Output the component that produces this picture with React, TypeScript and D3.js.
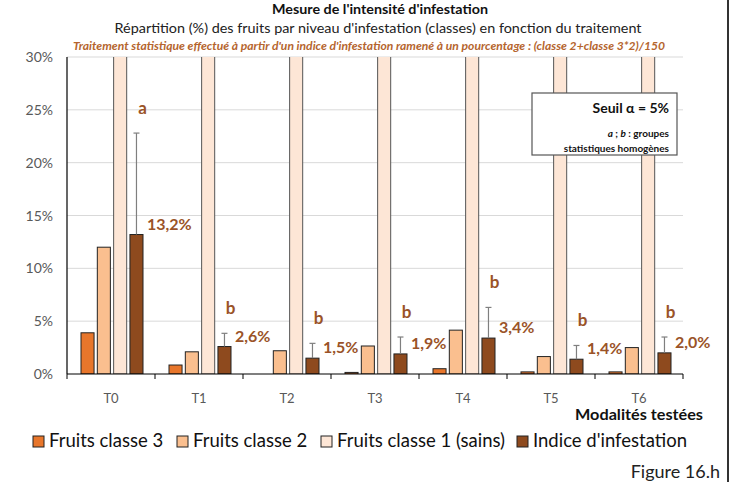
import React from "react";
import * as d3 from "d3";

// values (%)
const treatments = ["T0", "T1", "T2", "T3", "T4", "T5", "T6"];
const classe3 = [3.9, 0.85, 0, 0.15, 0.5, 0.2, 0.2];
const classe2 = [12.0, 2.1, 2.2, 2.65, 4.15, 1.65, 2.5];
const classe1 = [84.1, 97.0, 97.8, 97.2, 95.4, 98.1, 97.3];
const indice = [13.2, 2.6, 1.5, 1.9, 3.4, 1.4, 2.0];
const errTop = [22.8, 3.85, 2.9, 3.5, 6.3, 2.7, 3.5];
const groups = ["a", "b", "b", "b", "b", "b", "b"];
const yTicks = [0, 5, 10, 15, 20, 25, 30];

const seriesNames = ["Fruits classe 3", "Fruits classe 2", "Fruits classe 1 (sains)", "Indice d'infestation"];
const colors = ["#E8762B", "#FABF8F", "#FDE6D6", "#8E4A1E"];
const labelColor = "#9A5328";
const font = "Lato, 'Open Sans', sans-serif";

export default function App() {
  const W = 736, H = 482;
  const left = 67, right = 683, top = 57, bottom = 374;

  const x = d3.scaleBand().domain(treatments).range([left, right]);
  const inner = d3.scaleBand().domain(d3.range(4).map(String)).range([14, 76]).paddingInner(0.2);
  const y = d3.scaleLinear().domain([0, 30]).range([bottom, top]);

  const all = [classe3, classe2, classe1, indice];
  const fmt = (v: number) => v.toFixed(1).replace(".", ",") + "%";

  // legend squares x position
  const legSq = [33, 177, 321, 517];

  return (
    <svg width={W} height={H} style={{ position: "absolute", left: 0, top: 0, background: "#fff" }} fontFamily={font}>
      <defs>
        <clipPath id="plot">
          <rect x={left} y={top} width={right - left} height={bottom - top} />
        </clipPath>
      </defs>

      <text x={380} y={14} textAnchor="middle" fontSize={14} fontWeight="bold" fill="#111"
        textLength={216} lengthAdjust="spacingAndGlyphs">Mesure de l'intensité d'infestation</text>
      <text x={378} y={33} textAnchor="middle" fontSize={14} fill="#222"
        textLength={527} lengthAdjust="spacingAndGlyphs">Répartition (%) des fruits par niveau d'infestation (classes) en fonction du traitement</text>
      <text x={369} y={50} textAnchor="middle" fontSize={11} fontStyle="italic" fontWeight="bold" fill="#B5652E"
        textLength={592} lengthAdjust="spacingAndGlyphs">Traitement statistique effectué à partir d'un indice d'infestation ramené à un pourcentage : (classe 2+classe 3*2)/150</text>

      {/* grid */}
      {yTicks.map(t => (
        <g key={t}>
          {t > 0 && <line x1={left} x2={right} y1={y(t)} y2={y(t)} stroke="#D9D9D9" strokeWidth={1} />}
          <text x={53} y={y(t) + 5} textAnchor="end" fontSize={14} fill="#595959">{t}%</text>
        </g>
      ))}

      {/* bars */}
      <g clipPath="url(#plot)">
        {all.map((vals, s) =>
          treatments.map((tr, i) => {
            const v = vals[i];
            if (v <= 0) return null;
            const bx = (x(tr) as number) + (inner(String(s)) as number);
            return (
              <rect key={s + tr} x={bx} y={y(v)} width={inner.bandwidth()} height={bottom - y(v)}
                fill={colors[s]} stroke={s === 2 ? "#555" : "#222"} strokeWidth={1} />
            );
          })
        )}
      </g>

      {/* error bars, groups and value labels */}
      {treatments.map((tr, i) => {
        const bx = (x(tr) as number) + (inner("3") as number);
        const cx = bx + inner.bandwidth() / 2;
        return (
          <g key={tr}>
            <line x1={cx} x2={cx} y1={y(indice[i])} y2={y(errTop[i])} stroke="#7F7F7F" strokeWidth={1.2} />
            <line x1={cx - 3} x2={cx + 3} y1={y(errTop[i])} y2={y(errTop[i])} stroke="#7F7F7F" strokeWidth={1.2} />
            <text x={cx + 6} y={y(errTop[i]) - 19} textAnchor="middle" fontSize={17} fontWeight="bold" fill={labelColor}>{groups[i]}</text>
            <text x={bx + inner.bandwidth() + 4} y={y(indice[i]) - 5} fontSize={16} fontWeight="bold" fill={labelColor}>{fmt(indice[i])}</text>
          </g>
        );
      })}

      {/* axes */}
      <line x1={left} x2={left} y1={top} y2={bottom} stroke="#000" strokeWidth={1.2} />
      <line x1={left} x2={right} y1={bottom} y2={bottom} stroke="#000" strokeWidth={1.2} />
      {treatments.concat(["end"]).map((tr, i) => {
        const tx = i < treatments.length ? (x(tr) as number) : right;
        return <line key={"tk" + i} x1={tx} x2={tx} y1={bottom} y2={bottom + 5} stroke="#000" />;
      })}
      {treatments.map(tr => (
        <text key={"lb" + tr} x={(x(tr) as number) + x.bandwidth() / 2} y={403} textAnchor="middle" fontSize={13} fill="#595959">{tr}</text>
      ))}
      <text x={703} y={420} textAnchor="end" fontSize={15} fontWeight="bold" fill="#111"
        textLength={128} lengthAdjust="spacingAndGlyphs">Modalités testées</text>

      {/* stats box */}
      <rect x={532} y={93} width={145} height={62} fill="#fff" stroke="#555" strokeWidth={1.2} />
      <text x={669} y={113} textAnchor="end" fontSize={14} fontWeight="bold" fill="#111">Seuil α = 5%</text>
      <text x={669} y={137} textAnchor="end" fontSize={10} fontWeight="bold" fill="#111">
        <tspan fontStyle="italic">a</tspan> ; <tspan fontStyle="italic">b</tspan> : groupes
      </text>
      <text x={669} y={152} textAnchor="end" fontSize={10} fontWeight="bold" fill="#111">statistiques homogènes</text>

      {/* legend */}
      {seriesNames.map((n, i) => (
        <g key={n}>
          <rect x={legSq[i]} y={436} width={11} height={11} fill={colors[i]} stroke="#222" strokeWidth={1} />
          <text x={legSq[i] + 16} y={447} fontSize={18.5} fill="#111">{n}</text>
        </g>
      ))}
      <text x={720} y={478} textAnchor="end" fontSize={18} fill="#222">Figure 16.h</text>

      <line x1={728} x2={728} y1={0} y2={H} stroke="#333" strokeWidth={2} />
    </svg>
  );
}
